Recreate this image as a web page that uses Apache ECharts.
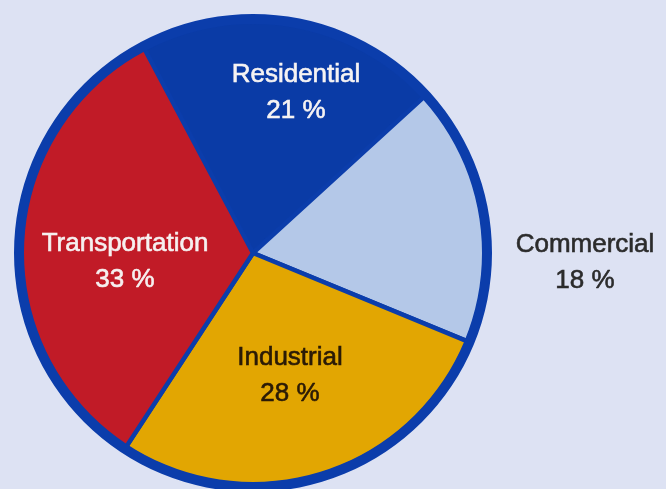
<!DOCTYPE html>
<html>
<head>
<meta charset="utf-8">
<script src="https://cdn.jsdelivr.net/npm/echarts@6/dist/echarts.min.js"></script>
<style>
html,body{margin:0;padding:0;background:#dde2f3;}
#c{width:666px;height:489px;}
</style>
</head>
<body>
<div id="c"></div>
<script>
const categories = ['Residential', 'Commercial', 'Industrial', 'Transportation'];
const shares = [21, 18, 28, 33];
const sliceColors = ['#0a3ba6', '#b4c8e8', '#e2a602', '#c11b27'];
const labelColors = ['#f6f3f3', '#2b2b2b', '#2a1a06', '#f6f0f0'];
const labelCenters = [[296, 93], [585, 263], [290, 376], [125, 262]];

const chart = echarts.init(document.getElementById('c'), null, {renderer: 'canvas'});
const data = categories.map((n, i) => ({
  name: n,
  value: shares[i],
  itemStyle: {color: sliceColors[i]},
  label: {color: labelColors[i], textBorderColor: labelColors[i], textBorderWidth: 0.6}
}));
chart.setOption({
  backgroundColor: '#dde2f3',
  animation: false,
  series: [
    {
      type: 'pie',
      center: [253, 253],
      radius: [0, 232],
      startAngle: 118,
      clockwise: true,
      silent: true,
      data: data,
      itemStyle: {borderColor: '#0b3dab', borderWidth: 4.5},
      label: {
        show: true,
        position: 'inside',
        formatter: p => p.name + '\n' + p.value + ' %',
        fontFamily: 'Liberation Sans, Arial, sans-serif',
        fontSize: 26,
        lineHeight: 36,
        align: 'center'
      },
      labelLine: {show: false},
      labelLayout: function (p) {
        const c = labelCenters[p.dataIndex];
        return {x: c[0], y: c[1], align: 'center', verticalAlign: 'middle'};
      }
    },
    {
      type: 'pie',
      center: [253, 253],
      radius: [229, 239],
      silent: true,
      label: {show: false},
      labelLine: {show: false},
      data: [{value: 1, itemStyle: {color: '#0b3dab'}}]
    }
  ]
});
</script>
</body>
</html>
